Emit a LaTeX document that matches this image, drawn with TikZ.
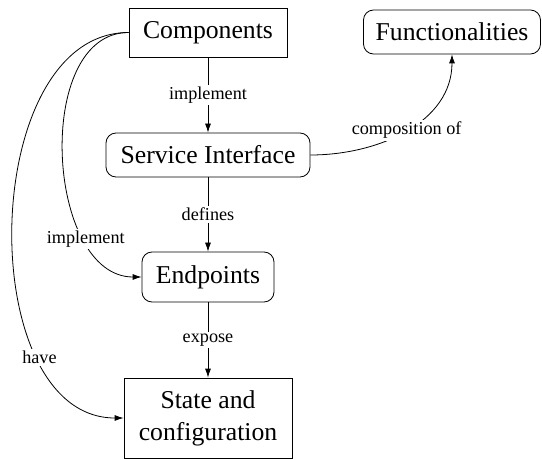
\documentclass[tikz,border=0pt]{standalone}
\usepackage{fontspec}
\setmainfont{Liberation Serif}
\usetikzlibrary{arrows.meta}
\begin{document}
\begin{tikzpicture}[x=1pt,y=-1pt,
  box/.style={draw, line width=0.8pt, inner sep=0pt, font=\fontsize{25.7}{32}\selectfont, align=center},
  rbox/.style={box, rounded corners=10pt},
  lbl/.style={fill=white, inner sep=2pt, font=\fontsize{18.2}{22}\selectfont},
  conn/.style={line width=0.8pt, -{Latex[length=9pt,width=6pt]}}]
\useasboundingbox (0,0) rectangle (542,460);
\node[box, minimum width=158pt, minimum height=49pt] (comp) at (208,32.5) {Components};
\node[rbox, minimum width=204pt, minimum height=44pt] (svc) at (208,155) {Service Interface};
\node[rbox, minimum width=177pt, minimum height=44pt] (func) at (452,32) {Functionalities};
\node[rbox, minimum width=132pt, minimum height=50pt] (endp) at (208,277) {Endpoints};
\node[box, minimum width=168pt, minimum height=80pt] (state) at (208,418) {State and\\configuration};
\draw[conn] (comp) -- node[lbl] {implement} (svc);
\draw[conn] (svc) -- node[lbl] {defines} (endp);
\draw[conn] (endp) -- node[lbl] {expose} (state);
\draw[conn] (svc.east) to[out=0,in=-90] node[lbl, pos=0.5] {composition of} (func.south);
\draw[conn] (comp.west) to[out=180,in=180] node[lbl, pos=0.75] {implement} (endp.west);
\draw[conn] (comp.west) to[out=180,in=180] node[lbl, pos=0.75] {have} (state.west);
\end{tikzpicture}
\end{document}
